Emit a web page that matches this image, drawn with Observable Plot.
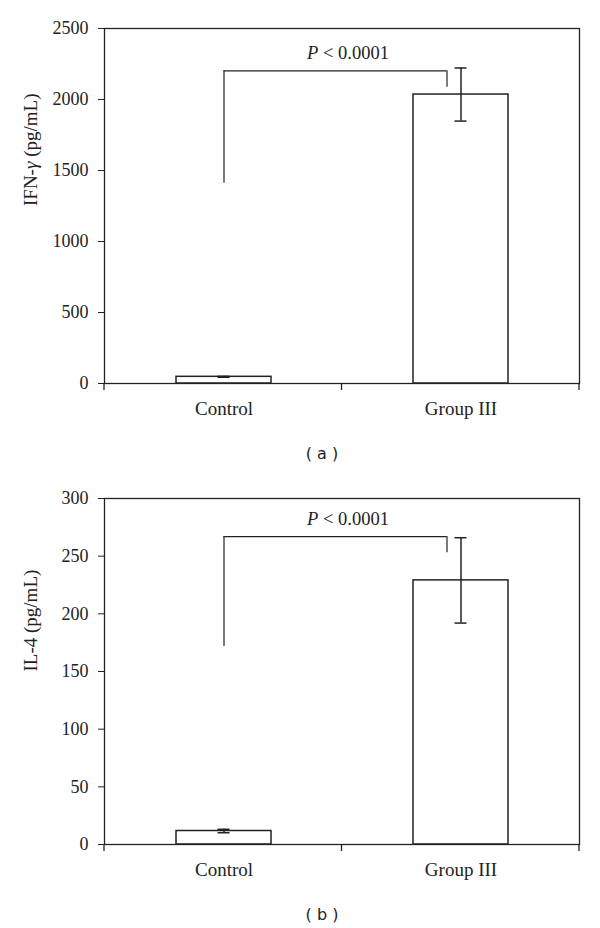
<!DOCTYPE html>
<html><head><meta charset="utf-8">
<script src="https://cdn.jsdelivr.net/npm/d3@7"></script>
<script src="https://cdn.jsdelivr.net/npm/@observablehq/plot@0.6"></script>
<style>
body{margin:0;background:#fff;width:600px;}
.cap{font-family:"DejaVu Sans",Verdana,sans-serif;font-size:16px;height:48px;line-height:48px;text-align:center;padding-left:44px;color:#222;white-space:pre;}
svg{display:block;}
</style></head><body>
<div id="a"></div><div class="cap">( a )</div><div id="b"></div><div class="cap">( b )</div>
<script>
const categories = ["Control", "Group III"];
// Panel (a) IFN-γ
const ifnMean = [47, 2035];
const ifnErr = [3, 187];
const ifnTicks = [0, 500, 1000, 1500, 2000, 2500];
const ifnBracket = {leftBottom: 1410, top: 2202, rightBottom: 2087};
// Panel (b) IL-4
const il4Mean = [11.7, 229];
const il4Err = [1.5, 37];
const il4Ticks = [0, 50, 100, 150, 200, 250, 300];
const il4Bracket = {leftBottom: 171.7, top: 267, rightBottom: 253};
const pText = "P < 0.0001";

const INK = "#222";
const FONT = "'Liberation Serif', 'DejaVu Serif', serif";

function panel({means, errs, ticks, bracket, label, height, marginTop}) {
  const data = categories.map((c, i) => ({cat: c, mean: means[i], lo: means[i] - errs[i], hi: means[i] + errs[i]}));
  const boundaryTicks = (index, scales, values, dims) => {
    const g = d3.create("svg:g");
    const l = dims.marginLeft, r = dims.width - dims.marginRight, b = dims.height - dims.marginBottom;
    [l, (l + r) / 2, r].forEach(x => g.append("line").attr("x1", x).attr("x2", x).attr("y1", b).attr("y2", b + 7).attr("stroke", INK).attr("stroke-width", 1.3));
    return g.node();
  };
  const svg = Plot.plot({
    width: 600, height, marginTop, marginBottom: 47, marginLeft: 104, marginRight: 21,
    style: {fontFamily: FONT, fontSize: "18px", color: INK, background: "white"},
    x: {domain: categories, paddingInner: 0.6, paddingOuter: 0.3, label: null},
    y: {domain: [0, ticks[ticks.length - 1]], label: null},
    marks: [
      Plot.barY(data, {x: "cat", y: "mean", fill: "white", stroke: INK, strokeWidth: 1.5}),
      Plot.ruleX(data, {x: "cat", y1: "lo", y2: "hi", stroke: INK, strokeWidth: 1.5}),
      Plot.tickY(data, {x: "cat", y: "hi", stroke: INK, strokeWidth: 1.5, insetLeft: 41.5, insetRight: 41.5}),
      Plot.tickY(data, {x: "cat", y: "lo", stroke: INK, strokeWidth: 1.5, insetLeft: 41.5, insetRight: 41.5}),
      Plot.ruleX([bracket], {x: () => categories[0], y1: "leftBottom", y2: "top", stroke: INK, strokeWidth: 1.2}),
      Plot.ruleX([bracket], {x: () => categories[1], y1: "rightBottom", y2: "top", dx: -14, stroke: INK, strokeWidth: 1.2}),
      Plot.ruleY([bracket], {y: "top", x1: () => categories[0], x2: () => categories[1], insetLeft: 47.5, insetRight: 61.5, stroke: INK, strokeWidth: 1.2}),
      Plot.text([bracket], {y: "top", frameAnchor: "middle", dx: 6, dy: -12, lineAnchor: "bottom", text: () => pText, fontSize: 18.5, fontFamily: FONT}),
      Plot.text([label], {frameAnchor: "left", rotate: -90, dx: -74, text: d => d, fontSize: 19, fontFamily: FONT}),
      Plot.frame({stroke: INK, strokeWidth: 1.3}),
      Plot.axisY({ticks, tickSize: 6, tickPadding: 10, label: null, stroke: INK, tickFormat: d => String(d), fontSize: 18, fontFamily: FONT}),
      Plot.axisX({tickSize: 0, tickPadding: 18, label: null, fontSize: 19, fontFamily: FONT}),
      boundaryTicks
    ]
  });
  // italics
  d3.select(svg).selectAll("text").each(function() {
    const t = this.textContent;
    const sel = d3.select(this);
    if (t === pText) {
      sel.text(null);
      sel.append("tspan").attr("font-style", "italic").text("P");
      sel.append("tspan").text(" < 0.0001");
    } else if (t.startsWith("IFN-γ")) {
      sel.text(null);
      sel.append("tspan").text("IFN-");
      sel.append("tspan").attr("font-style", "italic").text("γ");
      sel.append("tspan").text(" (pg/mL)");
    }
  });
  return svg;
}

document.getElementById("a").append(panel({means: ifnMean, errs: ifnErr, ticks: ifnTicks, bracket: ifnBracket, label: "IFN-γ (pg/mL)", height: 430, marginTop: 28}));
document.getElementById("b").append(panel({means: il4Mean, errs: il4Err, ticks: il4Ticks, bracket: il4Bracket, label: "IL-4 (pg/mL)", height: 413, marginTop: 20}));
</script>
</body></html>
